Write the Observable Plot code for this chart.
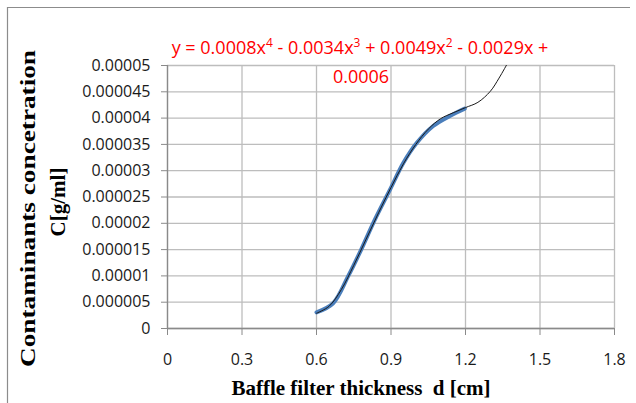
<!DOCTYPE html>
<html>
<head>
<meta charset="utf-8">
<script src="https://cdn.jsdelivr.net/npm/d3@7"></script>
<script src="https://cdn.jsdelivr.net/npm/@observablehq/plot@0.6"></script>
<style>
  html, body { margin: 0; padding: 0; background: #fff; }
  #chart { width: 636px; height: 403px; }
</style>
</head>
<body>
<div id="chart"></div>
<script>
// ---- data ----
const xTicks = [0, 0.3, 0.6, 0.9, 1.2, 1.5, 1.8];
const xTickLabels = ["0", "0.3", "0.6", "0.9", "1.2", "1.5", "1.8"];
const yTicks = [0, 0.000005, 0.00001, 0.000015, 0.00002, 0.000025, 0.00003, 0.000035, 0.00004, 0.000045, 0.00005];
const yTickLabels = ["0", "0.000005", "0.00001", "0.000015", "0.00002", "0.000025", "0.00003", "0.000035", "0.00004", "0.000045", "0.00005"];

// measured series (blue)
const thickness = [0.6, 0.667, 0.727, 0.78, 0.835, 0.896, 0.95, 1.004, 1.07, 1.137, 1.197];
const concentration = [0.00000306, 0.0000048, 0.0000099, 0.000015, 0.0000207, 0.0000264, 0.0000315, 0.0000353, 0.0000385, 0.0000404, 0.0000418];

// polynomial trendline (black)
const trendX = [0.6, 0.65, 0.7, 0.75, 0.8, 0.85, 0.9, 0.95, 1.0, 1.05, 1.1, 1.15, 1.2, 1.25, 1.3, 1.335, 1.37];
const trendC = [0.0000029, 0.0000042, 0.0000074, 0.0000120, 0.0000170, 0.0000220, 0.0000268, 0.0000313, 0.0000350, 0.0000379, 0.0000399, 0.0000410, 0.0000420, 0.0000430, 0.0000451, 0.0000476, 0.0000505];

const xTitle = "Baffle filter thickness  d [cm]";
const yTitle1 = "Contaminants concetration";
const yTitle2 = "C[g/ml]";

const measured = thickness.map((d, i) => ({x: d, y: concentration[i]}));
const trend = trendX.map((d, i) => ({x: d, y: trendC[i]}));

const gridColor = "#bdbdbd";
const axisColor = "#8a8a8a";

const chart = Plot.plot({
  width: 636,
  height: 403,
  marginLeft: 167,
  marginRight: 22,
  marginTop: 65,
  marginBottom: 75,
  style: {fontFamily: "'Open Sans', sans-serif", fontSize: "16px", color: "#1a1a1a", background: "#fff", overflow: "visible"},
  x: {domain: [0, 1.8]},
  y: {domain: [0, 0.00005]},
  marks: [
    Plot.gridX(xTicks, {stroke: gridColor, strokeOpacity: 1, strokeWidth: 1.3}),
    Plot.gridY(yTicks, {stroke: gridColor, strokeOpacity: 1, strokeWidth: 1.3}),
    Plot.axisX(xTicks, {tickSize: 7, tickPadding: 18, stroke: axisColor, fill: "#1a1a1a",
      tickFormat: (d) => xTickLabels[xTicks.indexOf(d)], label: null, fontSize: 16}),
    Plot.axisY(yTicks, {tickSize: 6, tickPadding: 11, stroke: axisColor, fill: "#1a1a1a",
      tickFormat: (d) => yTickLabels[yTicks.indexOf(d)], label: null, fontSize: 16}),
    Plot.ruleY([0], {stroke: axisColor, strokeWidth: 1.3}),
    Plot.ruleX([0], {stroke: axisColor, strokeWidth: 1.3}),
    Plot.line(measured, {x: "x", y: "y", curve: "catmull-rom", stroke: "#4a7ebb", strokeWidth: 4, clip: true}),
    Plot.line(trend, {x: "x", y: "y", curve: "catmull-rom", stroke: "#1a1a1a", strokeWidth: 1, clip: true})
  ]
});

document.getElementById("chart").appendChild(chart);

const svg = d3.select(chart);

// chart frame (top and left edges visible in the reference)
svg.append("path")
  .attr("d", "M7.5,403 V7.5 H630")
  .attr("fill", "none")
  .attr("stroke", "#8c8c8c")
  .attr("stroke-width", 1.2);

// trendline equation
const eq = svg.append("text")
  .attr("x", 360).attr("y", 54)
  .attr("text-anchor", "middle")
  .attr("fill", "#ff0000")
  .attr("font-family", "'Open Sans', sans-serif")
  .attr("font-size", 18)
  .style("white-space", "pre");
const parts = [["y = 0.0008x", null], ["4", "sup"], [" - 0.0034x", null], ["3", "sup"], [" + 0.0049x", null], ["2", "sup"], [" - 0.0029x +", null]];
let raised = false;
for (const [t, kind] of parts) {
  const ts = eq.append("tspan").text(t);
  if (kind === "sup") { ts.attr("dy", -7).attr("font-size", 12); raised = true; }
  else if (raised) { ts.attr("dy", 7); raised = false; }
}
svg.append("text")
  .attr("x", 361).attr("y", 83)
  .attr("text-anchor", "middle")
  .attr("fill", "#ff0000")
  .attr("font-family", "'Open Sans', sans-serif")
  .attr("font-size", 18)
  .text("0.0006");

// axis titles
svg.append("text")
  .attr("x", 361).attr("y", 395)
  .attr("text-anchor", "middle")
  .attr("font-family", "'Liberation Serif', 'Times New Roman', serif")
  .attr("font-weight", "bold")
  .attr("font-size", 21)
  .attr("fill", "#000")
  .style("white-space", "pre")
  .text(xTitle);

svg.append("text")
  .attr("transform", "translate(35,208.5) rotate(-90)")
  .attr("text-anchor", "middle")
  .attr("font-family", "'Liberation Serif', 'Times New Roman', serif")
  .attr("font-weight", "bold")
  .attr("font-size", 21)
  .attr("fill", "#000")
  .attr("textLength", 317)
  .attr("lengthAdjust", "spacingAndGlyphs")
  .text(yTitle1);

svg.append("text")
  .attr("transform", "translate(65,202) rotate(-90)")
  .attr("text-anchor", "middle")
  .attr("font-family", "'Liberation Serif', 'Times New Roman', serif")
  .attr("font-weight", "bold")
  .attr("font-size", 21)
  .attr("fill", "#000")
  .text(yTitle2);
</script>
</body>
</html>
